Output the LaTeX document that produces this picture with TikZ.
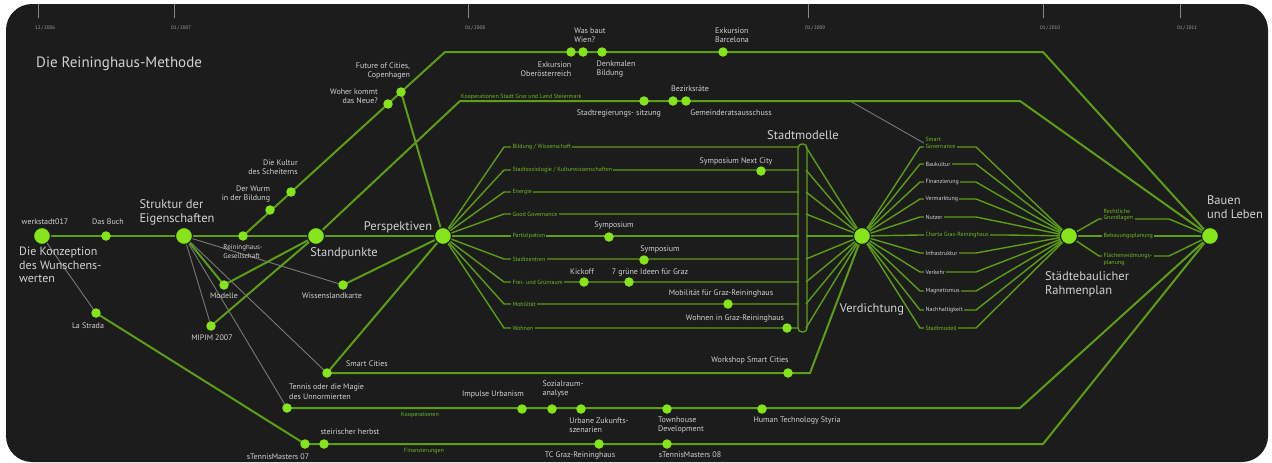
\documentclass[tikz,border=0pt]{standalone}
\usepackage{fontspec}
\setmainfont{PT Sans}
\usetikzlibrary{calc}
\definecolor{rhbg}{HTML}{1C1C1C}
\definecolor{rhline}{HTML}{5C9E16}
\definecolor{rhdot}{HTML}{86E41A}
\definecolor{rhtext}{HTML}{D2D2D2}
\definecolor{rhtag}{HTML}{6CBC20}
\definecolor{rhgrey}{HTML}{6A6A6A}
\pgfdeclarelayer{board}
\pgfdeclarelayer{wires}
\pgfsetlayers{board,wires,main}
\tikzset{
  hub/.style={circle,fill=rhdot,draw=rhbg,line width=1.2pt,minimum size=17pt,inner sep=0pt},
  evt/.style={circle,fill=rhdot,minimum size=9.5pt,inner sep=0pt},
  lbl/.style={text=rhtext,font=\fontsize{8}{9.5}\selectfont,inner sep=1pt,align=center},
  big/.style={text=rhtext,font=\fontsize{12.5}{14}\selectfont,inner sep=1pt,align=left},
  tag/.style={text=rhtag,font=\fontsize{6}{6.5}\selectfont,fill=rhbg,inner sep=1.3pt,align=left},
  date/.style={text=rhgrey!60!white,font=\fontsize{5}{6}\selectfont,inner sep=0pt},
  tick/.style={draw=rhgrey!80!white,line width=0.6pt},
  track/.style={draw=rhline,line width=2pt},
  twig/.style={draw=rhline,line width=1.4pt},
  faint/.style={draw=rhgrey!90!white,line width=0.9pt},
}

\begin{document}
\begin{tikzpicture}[x=1pt,y=-1pt]
  \useasboundingbox (0,0) rectangle (1272,463);
  \begin{pgfonlayer}{board}
    \fill[white] (0,0) rectangle (1272,463);
    \fill[rhbg,rounded corners=26pt] (6,4) rectangle (1268,462);
  \end{pgfonlayer}

  % ---- time axis at the top ----
  \foreach \x/\m/\yr in {38/12/2006,174/01/2007,468/01/2008,808/01/2009,1043/01/2010,1180/01/2011}{
    \draw[tick] (\x,4) -- (\x,18);
    \node[date,anchor=west] (d\yr) at (\x-3,28) {\m\,/\,\yr};
  }
  \node[big,font=\fontsize{15}{16}\selectfont,anchor=west] (title) at (35,64) {Die Reininghaus-Methode};

  % ---- hubs ----
  \node[hub] (wk) at (42,236) {};
  \node[hub] (st) at (184,236) {};
  \node[hub] (sp) at (316,236) {};
  \node[hub] (pe) at (443,236) {};
  \node[hub] (ve) at (862,236) {};
  \node[hub] (ra) at (1069,236) {};
  \node[hub] (bl) at (1210,236) {};
  \node[lbl] (wkl) at (45,222) {werkstadt017};
  \node[big,anchor=north west,font=\fontsize{12}{13.5}\selectfont] (wkt) at (18,246) {Die Konzeption\\des Wunschens-\\werten};
  \node[big] (stl) at (177,212) {Struktur der\\Eigenschaften};
  \node[big] (spl) at (344,253) {Standpunkte};
  \node[big] (pel) at (398,227) {Perspektiven};
  \node[big] (vel) at (872,309) {Verdichtung};
  \node[big] (ral) at (1087,284) {Städtebaulicher\\Rahmenplan};
  \node[big] (bll) at (1235,207) {Bauen\\und Leben};

  % ---- left part ----
  \node[evt] (buch) at (106,236) {};
  \node[lbl] (buchl) at (108,222) {Das Buch};
  \node[evt] (rg) at (243,236) {};
  \node[lbl,align=left,font=\fontsize{7}{9}\selectfont] (rgl) at (243,252) {Reininghaus-\\Gesellschaft};
  \node[evt] (wurm) at (270,210) {};
  \node[lbl,align=right] (wurml) at (246,194) {Der Wurm\\in der Bildung};
  \node[evt] (kult) at (291,192) {};
  \node[lbl,align=right] (kultl) at (273,167) {Die Kultur\\des Scheiterns};
  \node[evt] (woher) at (388,104) {};
  \node[lbl,align=right] (woherl) at (354,96) {Woher kommt\\das Neue?};
  \node[evt] (future) at (401,92) {};
  \node[lbl,align=right] (futurel) at (383,71) {Future of Cities,\\Copenhagen};
  \node[evt] (mod) at (224,285) {};
  \node[lbl] (modl) at (224,296) {Modelle};
  \node[evt] (mipim) at (211,326) {};
  \node[lbl] (mipiml) at (212,338) {MIPIM 2007};
  \node[evt] (wiss) at (343,285) {};
  \node[lbl] (wissl) at (332,296) {Wissenslandkarte};
  \node[evt] (strada) at (96,313) {};
  \node[lbl] (stradal) at (88,326) {La Strada};

  % ---- top tracks ----
  \node[evt] (exob) at (571,52) {};
  \node[lbl,align=right] (exobl) at (546,69) {Exkursion\\Oberösterreich};
  \node[evt] (wien) at (583,52) {};
  \node[lbl,align=left] (wienl) at (590,35) {Was baut\\Wien?};
  \node[evt] (denk) at (602,52) {};
  \node[lbl,align=left] (denkl) at (616,69) {Denkmalen\\Bildung};
  \node[evt] (barc) at (723,52) {};
  \node[lbl,align=left] (barcl) at (732,35) {Exkursion\\Barcelona};
  \node[evt] (sreg) at (644,101) {};
  \node[lbl] (sregl) at (619,113) {Stadtregierungs- sitzung};
  \node[evt] (bez) at (673,101) {};
  \node[lbl] (bezl) at (690,89) {Bezirksräte};
  \node[evt] (gem) at (686,101) {};
  \node[lbl] (geml) at (731,113) {Gemeinderatsausschuss};
  \node[tag,fill=none,anchor=west,inner sep=0pt] (koop) at (461,96.5) {Kooperationen Stadt Graz und Land Steiermark};

  % ---- Perspektiven fan ----
  \foreach \y/\t [count=\i] in {147/{Bildung / Wissenschaft},170/{Stadtsoziologie / Kulturwissenschaften},192/Energie,214/Good Governance,236/Partizipation,259/Stadtzentren,282/Frei- und Grünraum,304/Mobilität,328/Wohnen}{
    \node[tag,anchor=west] (pb\i) at (511,\y) {\t};
    \begin{pgfonlayer}{wires}
      \draw[twig] (pe.center) -- (504,\y) -- (799,\y);
      \draw[twig] (806,\y) -- (ve.center);
    \end{pgfonlayer}
  }
  \draw[twig,rounded corners=4pt] (798,144) rectangle (807,332);
  \node[big] (modell) at (803,135) {Stadtmodelle};
  \node[evt] (next) at (761,171) {};
  \node[lbl] (nextl) at (736,161) {Symposium Next City};
  \node[evt] (sym1) at (609,237) {};
  \node[lbl] (sym1l) at (614,225) {Symposium};
  \node[evt] (sym2) at (644,260) {};
  \node[lbl] (sym2l) at (660,249) {Symposium};
  \node[evt] (kick) at (584,282) {};
  \node[lbl] (kickl) at (582,272) {Kickoff};
  \node[evt] (ideen) at (629,282) {};
  \node[lbl] (ideenl) at (650,272) {7 grüne Ideen für Graz};
  \node[evt] (mobi) at (728,304) {};
  \node[lbl] (mobil) at (721,293) {Mobilität für Graz-Reininghaus};
  \node[evt] (wohn) at (787,328) {};
  \node[lbl] (wohnl) at (735,318) {Wohnen in Graz-Reininghaus};

  % ---- Verdichtung fan ----
  \node[tag,anchor=south west] (vb0) at (924,150) {Smart\\Governance};
  \begin{pgfonlayer}{wires}
    \draw[twig] (ve.center) -- (920,147) -- (976,147) -- (ra.center);
    \draw[faint] (850,101) -- (vb0.west);
  \end{pgfonlayer}
  \foreach \y/\t/\c/\e [count=\i] in {164/Baukultur/rhtext/976,182/Finanzierung/rhtext/976,199/Vermarktung/rhtext/976,217/Nutzer/rhtext/976,235/Charta Graz-Reininghaus/rhtag/1006,253/Infrastruktur/rhtext/976,272/Verkehr/rhtext/976,291/Magnetismus/rhtext/976,310/Nachhaltigkeit/rhtext/976,328/Stadtmodell/rhtag/976}{
    \node[tag,text=\c,anchor=west] (vb\i) at (924,\y) {\t};
    \begin{pgfonlayer}{wires}
      \draw[twig] (ve.center) -- (920,\y) -- (\e,\y) -- (ra.center);
    \end{pgfonlayer}
  }

  % ---- Rahmenplan fan ----
  \node[tag,anchor=south west] (rb1) at (1102,222.5) {Rechtliche\\Grundlagen};
  \node[tag,anchor=west] (rb2) at (1102,236) {Bebauungsplanung};
  \node[tag,anchor=north west] (rb3) at (1102,252) {Flächenwidmungs-\\planung};
  \begin{pgfonlayer}{wires}
    \draw[twig] (ra.center) -- (1099,219) -- (1169,219) -- (bl.center);
    \draw[twig] (ra.center) -- (bl.center);
    \draw[twig] (ra.center) -- (1099,256) -- (1169,256) -- (bl.center);
  \end{pgfonlayer}

  % ---- lower tracks ----
  \node[evt] (smart) at (327,373) {};
  \node[lbl] (smartl) at (367,364) {Smart Cities};
  \node[evt] (wsc) at (788,373) {};
  \node[lbl] (wscl) at (750,360) {Workshop Smart Cities};
  \node[evt] (tennis) at (287,408) {};
  \node[lbl,align=left,anchor=north west] (tennisl) at (288,383) {Tennis oder die Magie\\des Unnormierten};
  \node[evt] (impu) at (522,409) {};
  \node[lbl] (impul) at (493,394) {Impulse Urbanism};
  \node[evt] (sozi) at (552,409) {};
  \node[lbl,align=left] (sozil) at (563,389) {Sozialraum-\\analyse};
  \node[evt] (urb) at (581,409) {};
  \node[lbl,align=left] (urbl) at (599,425) {Urbane Zukunfts-\\szenarien};
  \node[evt] (town) at (667,409) {};
  \node[lbl,align=left] (townl) at (681,425) {Townhouse\\Development};
  \node[evt] (human) at (762,409) {};
  \node[lbl] (humanl) at (797,420) {Human Technology Styria};
  \node[tag,fill=none,inner sep=0pt] (koop2) at (420,415) {Kooperationen};
  \node[evt] (tm07) at (305,444) {};
  \node[lbl] (tm07l) at (278,457) {sTennisMasters 07};
  \node[evt] (herbst) at (324,444) {};
  \node[lbl] (herbstl) at (350,432) {steirischer herbst};
  \node[evt] (tcg) at (599,444) {};
  \node[lbl] (tcgl) at (580,455) {TC Graz-Reininghaus};
  \node[evt] (tm08) at (667,444) {};
  \node[lbl] (tm08l) at (690,455) {sTennisMasters 08};
  \node[tag,fill=none,inner sep=0pt] (finz) at (424,451) {Finanzierungen};

  % ---- connectors ----
  \begin{pgfonlayer}{wires}
    \draw[faint] (wk.center) -- (strada.center);
    \draw[faint] (st.center) -- (mipim.center);
    \draw[faint] (st.center) -- (tennis.center);
    \draw[faint] (st.center) -- (smart.center);
    \draw[faint] (st.center) -- (wiss.center);
    \draw[track] (wk.center) -- (pe.center);
    \draw[track] (rg.center) -- (445,52) -- (1043,52) -- (bl.center);
    \draw[track] (sp.center) -- (460,101) -- (1020,101) -- (bl.center);
    \draw[track] (future.center) -- (pe.center);
    \draw[track] (st.center) -- (mod.center) -- (sp.center);
    \draw[track] (mipim.center) -- (sp.center);
    \draw[track] (wiss.center) -- (pe.center);
    \draw[track] (smart.center) -- (pe.center);
    \draw[track] (smart.center) -- (810,373) -- (ve.center);
    \draw[track] (tennis.center) -- (1020,408) -- (bl.center);
    \draw[track] (strada.center) -- (tm07.center) -- (1043,444) -- (bl.center);
  \end{pgfonlayer}
\end{tikzpicture}
\end{document}
